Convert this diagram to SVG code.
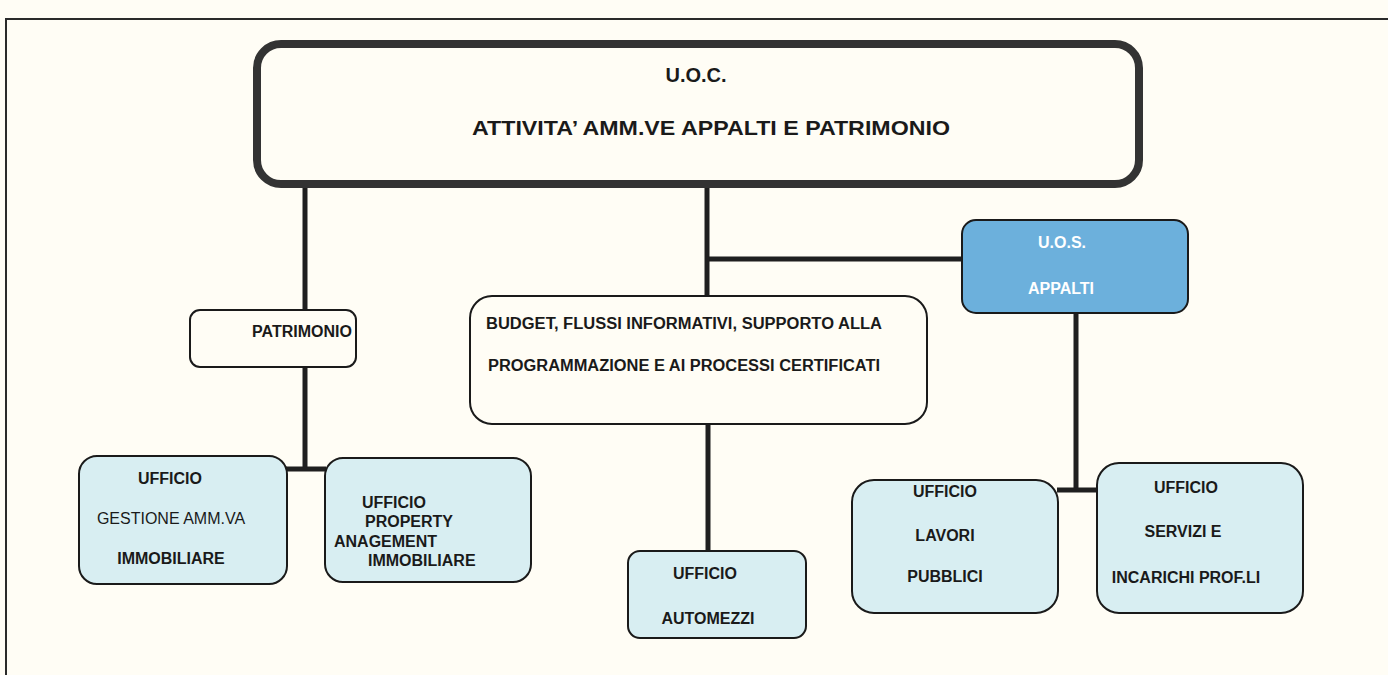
<svg xmlns="http://www.w3.org/2000/svg" width="1388" height="675" viewBox="0 0 1388 675">
  <style>
    .bg { fill: #fffdf5; }
    .frame { fill: none; stroke: #2a2a2a; stroke-width: 2; }
    .main { fill: #fffdf5; stroke: #333333; stroke-width: 8; }
    .plain { fill: #fffdf5; stroke: #1a1a1a; stroke-width: 2; }
    .office { fill: #d8eef2; stroke: #1a1a1a; stroke-width: 2; }
    .uos { fill: #6cb0dc; stroke: #1a1a1a; stroke-width: 2; }
    .link { stroke: #1f1f1f; stroke-width: 5; fill: none; }
    text { font-family: "Liberation Sans", Arial, sans-serif; fill: #1a1a1a; }
    .b { font-weight: bold; }
    .t1 { font-size: 20px; }
    .t2 { font-size: 16px; }
    .w { fill: #ffffff; }
  </style>

  <rect class="bg" x="0" y="0" width="1388" height="675"/>
  <!-- page frame -->
  <path class="frame" d="M6,675 V19 H1388"/>

  <!-- connectors -->
  <g id="connectors">
    <line class="link" x1="305" y1="188" x2="305" y2="310"/>
    <line class="link" x1="305" y1="367" x2="305" y2="469"/>
    <line class="link" x1="286" y1="469" x2="326" y2="469"/>
    <line class="link" x1="707" y1="188" x2="707" y2="297"/>
    <line class="link" x1="707" y1="259" x2="963" y2="259"/>
    <line class="link" x1="708" y1="424" x2="708" y2="552"/>
    <line class="link" x1="1076" y1="312" x2="1076" y2="490"/>
    <line class="link" x1="1057" y1="490" x2="1098" y2="490"/>
  </g>

  <g id="uoc">
    <rect class="main" x="257" y="44" width="882" height="140" rx="24"/>
    <text class="b t1" x="696" y="82" text-anchor="middle">U.O.C.</text>
    <text class="b t1" x="711" y="135" text-anchor="middle" textLength="478" lengthAdjust="spacingAndGlyphs">ATTIVITA’ AMM.VE APPALTI E PATRIMONIO</text>
  </g>

  <g id="uos-appalti">
    <rect class="uos" x="962" y="220" width="226" height="93" rx="14"/>
    <text class="b t2 w" x="1062" y="248" text-anchor="middle">U.O.S.</text>
    <text class="b t2 w" x="1061" y="294" text-anchor="middle">APPALTI</text>
  </g>

  <g id="patrimonio">
    <rect class="plain" x="190" y="310" width="166" height="57" rx="10"/>
    <text class="b t2" x="302" y="337" text-anchor="middle">PATRIMONIO</text>
  </g>

  <g id="budget">
    <rect class="plain" x="470" y="296" width="457" height="128" rx="22"/>
    <text class="b" font-size="16" x="486" y="329" textLength="396" lengthAdjust="spacingAndGlyphs">BUDGET, FLUSSI INFORMATIVI, SUPPORTO ALLA</text>
    <text class="b" font-size="16" x="488" y="371" textLength="392" lengthAdjust="spacingAndGlyphs">PROGRAMMAZIONE E AI PROCESSI CERTIFICATI</text>
  </g>

  <g id="ufficio-gestione">
    <rect class="office" x="79" y="456" width="208" height="128" rx="18"/>
    <text class="b t2" x="170" y="484" text-anchor="middle">UFFICIO</text>
    <text class="t2" x="171" y="524" text-anchor="middle">GESTIONE AMM.VA</text>
    <text class="b t2" x="171" y="564" text-anchor="middle">IMMOBILIARE</text>
  </g>

  <g id="ufficio-property">
    <rect class="office" x="325" y="458" width="206" height="124" rx="18"/>
    <text class="b t2" x="362" y="508">UFFICIO</text>
    <text class="b t2" x="365" y="527">PROPERTY</text>
    <text class="b t2" x="334" y="547">ANAGEMENT</text>
    <text class="b t2" x="368" y="566">IMMOBILIARE</text>
  </g>

  <g id="ufficio-automezzi">
    <rect class="office" x="628" y="551" width="178" height="87" rx="12"/>
    <text class="b t2" x="705" y="579" text-anchor="middle">UFFICIO</text>
    <text class="b t2" x="708" y="624" text-anchor="middle">AUTOMEZZI</text>
  </g>

  <g id="ufficio-lavori">
    <rect class="office" x="852" y="480" width="206" height="133" rx="22"/>
    <text class="b t2" x="945" y="497" text-anchor="middle">UFFICIO</text>
    <text class="b t2" x="945" y="541" text-anchor="middle">LAVORI</text>
    <text class="b t2" x="945" y="582" text-anchor="middle">PUBBLICI</text>
  </g>

  <g id="ufficio-servizi">
    <rect class="office" x="1097" y="463" width="206" height="150" rx="22"/>
    <text class="b t2" x="1186" y="493" text-anchor="middle">UFFICIO</text>
    <text class="b t2" x="1183" y="537" text-anchor="middle">SERVIZI E</text>
    <text class="b t2" x="1186" y="583" text-anchor="middle">INCARICHI PROF.LI</text>
  </g>
</svg>
